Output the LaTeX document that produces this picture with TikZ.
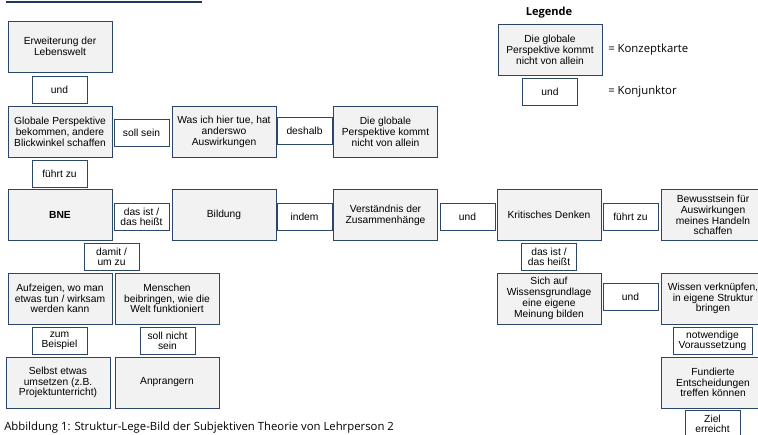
\documentclass[tikz,border=0pt]{standalone}
\usepackage{fontspec}
\setmainfont{Liberation Sans}
\newfontfamily\capfont{Open Sans}
\usepackage{tikz}

\definecolor{cardfill}{HTML}{F2F2F2}
\definecolor{cardline}{HTML}{2B4668}
\definecolor{topline}{HTML}{1F3864}

\tikzset{
  card/.style={draw=cardline, fill=cardfill, line width=0.65pt, minimum width=78pt, minimum height=38.25pt,
    inner sep=0pt, align=center, font=\fontsize{7.7}{8.1}\selectfont},
  conj/.style={draw=cardline, fill=white, line width=0.65pt, minimum width=41.25pt, minimum height=20.25pt,
    inner sep=0pt, align=center, font=\fontsize{7.7}{7.6}\selectfont},
  legtext/.style={anchor=west, inner sep=0pt, font=\capfont\fontsize{8.5}{9}\selectfont}
}

\begin{document}
\begin{tikzpicture}[x=0.75pt, y=-0.75pt]
\useasboundingbox (0,0) rectangle (758,435);
\draw [topline, line width=1.5pt] (6,2) -- (202,2);

% Legende
\node [font=\capfont\bfseries\fontsize{8.3}{9}\selectfont] (legtitle) at (549,13) {Legende};
\node [card] (legcard) at (550,50) {Die globale\\Perspektive kommt\\nicht von allein};
\node [conj] (legconj) at (550,92) {und};
\node [legtext] (legk1) at (608,50) {= Konzeptkarte};
\node [legtext] (legk2) at (608,92) {= Konjunktor};

% linke Spalten
\node [card] (erw) at (60,46.5) {Erweiterung der\\Lebenswelt};
\node [conj] (und1) at (59.5,89.5) {und};
\node [card] (glob) at (60,132) {Globale Perspektive\\bekommen, andere\\Blickwinkel schaffen};
\node [conj] (soll) at (141.5,133) {soll sein};
\node [card] (hier) at (224,132) {Was ich hier tue, hat\\anderswo\\Auswirkungen};
\node [conj] (deshalb) at (304.5,131) {deshalb};
\node [card] (allein) at (385.5,132) {Die globale\\Perspektive kommt\\nicht von allein};
\node [conj] (fuehrt1) at (59.5,173.5) {führt zu};

% mittlere Reihe
\node [card, font=\bfseries\fontsize{7.7}{8.1}\selectfont] (bne) at (60,215) {BNE};
\node [conj] (dasist1) at (141.5,217) {das ist /\\das heißt};
\node [card] (bildung) at (224,215) {Bildung};
\node [conj] (indem) at (304.5,217) {indem};
\node [card] (verst) at (385.5,215) {Verständnis der\\Zusammenhänge};
\node [conj] (und2) at (467.5,217) {und};
\node [card] (krit) at (549,215) {Kritisches Denken};
\node [conj] (fuehrt2) at (630.5,217) {führt zu};
\node [card] (bewusst) at (713,215) {Bewusstsein für\\Auswirkungen\\meines Handeln\\schaffen};

% untere Reihen
\node [conj] (damit) at (111.5,256.5) {damit /\\um zu};
\node [card] (aufz) at (60,298.5) {Aufzeigen, wo man\\etwas tun / wirksam\\werden kann};
\node [card] (menschen) at (167,298.5) {Menschen\\beibringen, wie die\\Welt funktioniert};
\node [conj] (zumbsp) at (59.5,340.5) {zum\\Beispiel};
\node [conj] (sollnicht) at (167.5,340.5) {soll nicht\\sein};
\node [card] (selbst) at (58,382.5) {Selbst etwas\\umsetzen (z.B.\\Projektunterricht)};
\node [card] (anpr) at (167,382.5) {Anprangern};

\node [conj] (dasist2) at (549,257) {das ist /\\das heißt};
\node [card] (meinung) at (549,298.5) {Sich auf\\Wissensgrundlage\\eine eigene\\Meinung bilden};
\node [conj] (und3) at (630.5,296.5) {und};
\node [card] (wissen) at (713,298.5) {Wissen verknüpfen,\\in eigene Struktur\\bringen};
\node [conj, minimum width=59.25pt] (notw) at (712.5,340.5) {notwendige\\Voraussetzung};
\node [card] (fundiert) at (713,382.5) {Fundierte\\Entscheidungen\\treffen können};
\node [conj] (ziel) at (712.5,423.5) {Ziel\\erreicht};

\node [legtext] (caption) at (4,428) {Abbildung 1: Struktur-Lege-Bild der Subjektiven Theorie von Lehrperson 2};
\end{tikzpicture}
\end{document}
